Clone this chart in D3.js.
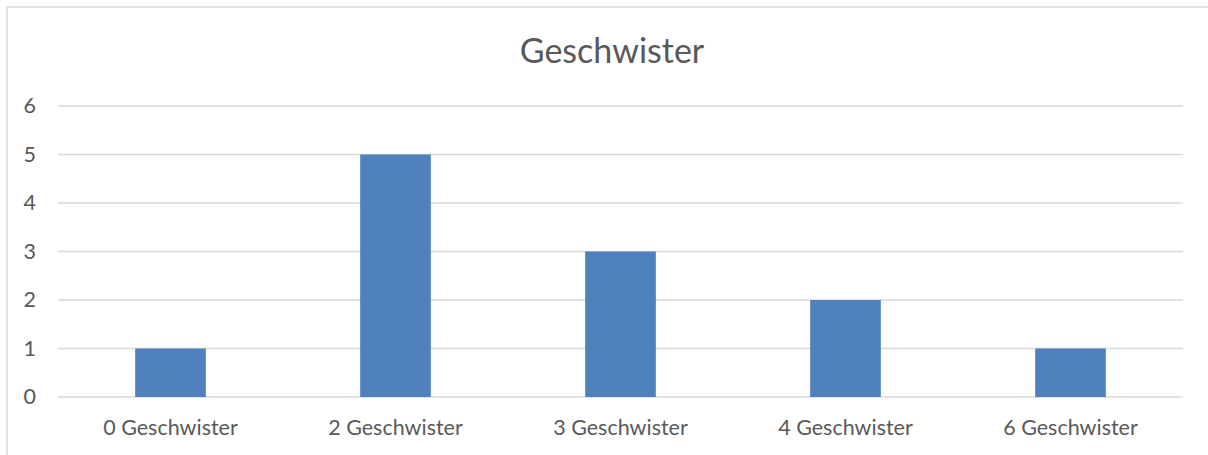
<!DOCTYPE html>
<html>
<head>
<meta charset="utf-8">
<script src="https://cdn.jsdelivr.net/npm/d3@7"></script>
<style>
  body { margin: 0; background: #fff; }
  text { font-family: Lato, "Open Sans", sans-serif; fill: #595959; }
</style>
</head>
<body>
<div id="chart"></div>
<script>
var svgWidth = 1208;
var svgHeight = 455;

// data
var categories = ["0 Geschwister", "2 Geschwister", "3 Geschwister", "4 Geschwister", "6 Geschwister"];
var counts = [1, 5, 3, 2, 1];
var yTicks = [0, 1, 2, 3, 4, 5, 6];
var chartTitle = "Geschwister";

var plot = { left: 58, right: 1183, top: 106, bottom: 397 };

var svg = d3.select("#chart")
  .append("svg")
  .attr("width", svgWidth)
  .attr("height", svgHeight);

// chart area border (right and bottom edges fall outside the picture)
svg.append("rect")
  .attr("x", 7)
  .attr("y", 7)
  .attr("width", 1212)
  .attr("height", 470)
  .attr("fill", "none")
  .attr("stroke", "#d9d9d9")
  .attr("stroke-width", 1.5);

var x = d3.scaleBand()
  .domain(categories)
  .range([plot.left, plot.right])
  .paddingInner(0.686)
  .paddingOuter(0.343);

var y = d3.scaleLinear()
  .domain([0, 6])
  .range([plot.bottom, plot.top]);

// gridlines
svg.append("g")
  .selectAll("line")
  .data(yTicks)
  .enter()
  .append("line")
  .attr("x1", plot.left)
  .attr("x2", plot.right)
  .attr("y1", d => y(d))
  .attr("y2", d => y(d))
  .attr("stroke", "#d9d9d9")
  .attr("stroke-width", 1.3);

// bars
svg.append("g")
  .selectAll("rect")
  .data(counts)
  .enter()
  .append("rect")
  .attr("x", (d, i) => x(categories[i]))
  .attr("y", d => y(d))
  .attr("width", x.bandwidth())
  .attr("height", d => y(0) - y(d))
  .attr("fill", "#4f81bd");

// y axis labels
var leftAxis = d3.axisLeft(y).tickValues(yTicks).tickFormat(d3.format("d")).tickSize(0).tickPadding(0);
var yAxis = svg.append("g")
  .attr("transform", "translate(36,0)")
  .call(leftAxis);
yAxis.select(".domain").remove();
yAxis.selectAll("text")
  .attr("font-size", 21.5)
  .attr("fill", "#595959")
  .style("font-family", "Lato, sans-serif");

// x axis labels
var bottomAxis = d3.axisBottom(x).tickSize(0).tickPadding(0);
var xAxis = svg.append("g")
  .attr("transform", `translate(0, ${plot.bottom + 23})`)
  .call(bottomAxis);
xAxis.select(".domain").remove();
xAxis.selectAll("text")
  .attr("font-size", 21.5)
  .attr("fill", "#595959")
  .style("font-family", "Lato, sans-serif");

// title
svg.append("text")
  .attr("x", 612)
  .attr("y", 63)
  .attr("text-anchor", "middle")
  .attr("font-size", 34)
  .text(chartTitle);
</script>
</body>
</html>
